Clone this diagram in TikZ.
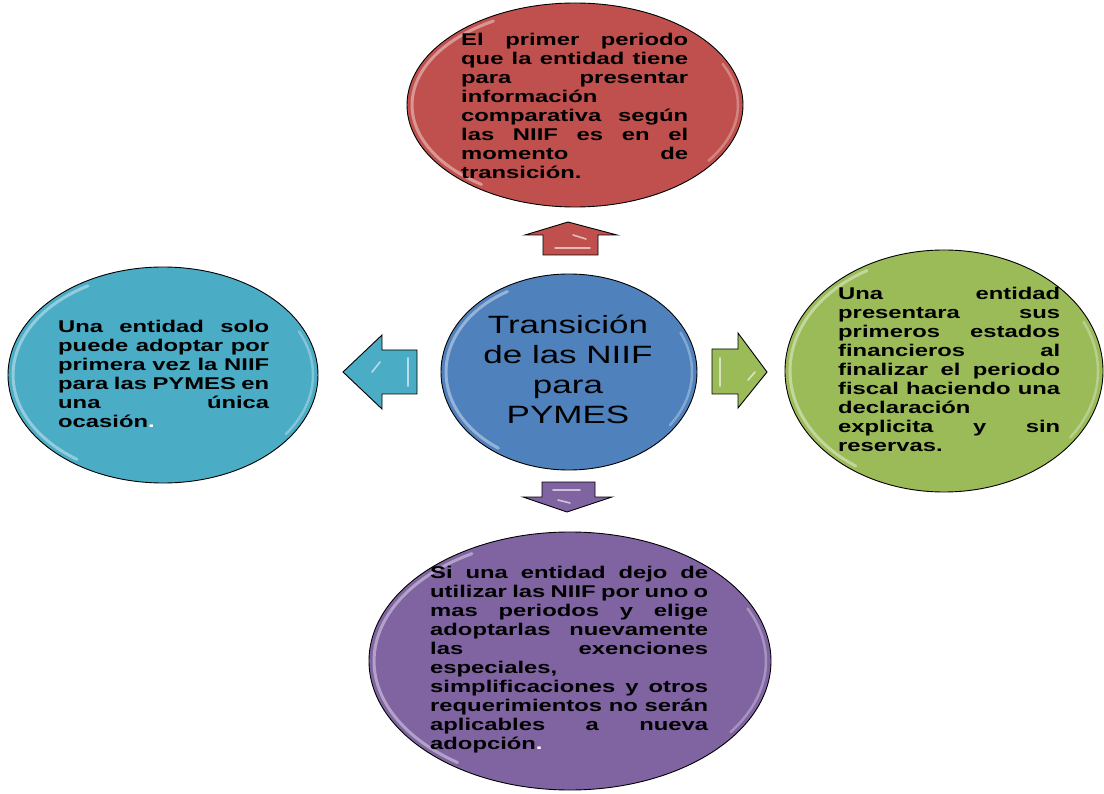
\documentclass[tikz,border=0pt]{standalone}
\usepackage{fontspec}
\setmainfont{Liberation Sans}[FakeStretch=1.4]
\usetikzlibrary{shapes.geometric}
\definecolor{cred}{HTML}{C0504D}
\definecolor{cblue}{HTML}{4F81BD}
\definecolor{ccyan}{HTML}{4BACC6}
\definecolor{cgreen}{HTML}{9BBB59}
\definecolor{cpurple}{HTML}{8064A2}
\newcommand\JL[2]{\makebox[#1][s]{\spaceskip=0pt\xspaceskip=0pt #2}}
\tikzset{
  bubble/.style={ellipse, draw=black, line width=0.9pt, inner sep=0pt},
  gloss/.style={white, opacity=0.4, line width=3pt, line cap=round},
  blockarrow/.style={draw=black, line width=0.9pt, line join=miter},
  bodytext/.style={inner sep=0pt, anchor=north west, align=left,
    font=\fontsize{17}{19}\selectfont\bfseries},
  hl/.style={white, opacity=0.6, line width=1.6pt, line cap=round}
}
\begin{document}
\begin{tikzpicture}[x=1pt,y=-1pt]
\useasboundingbox[fill=white] (0,0) rectangle (1104,794);

% ellipses
\node[bubble, fill=cred, minimum width=336pt, minimum height=204pt] (top) at (575,105) {};
\node[bubble, fill=cblue, minimum width=256pt, minimum height=196pt] (mid) at (569,372) {};
\node[bubble, fill=ccyan, minimum width=310pt, minimum height=216pt] (left) at (163,375) {};
\node[bubble, fill=cgreen, minimum width=318pt, minimum height=242pt] (right) at (944,371) {};
\node[bubble, fill=cpurple, minimum width=402pt, minimum height=258pt] (bot) at (570,661) {};

% glossy edges
\foreach \cx/\cy/\rx/\ry in {575/105/168/102, 569/372/128/98, 163/375/155/108, 944/371/159/121, 570/661/201/129}{
  \draw[gloss] plot[domain=120:235, samples=40] ({\cx+(\rx-5)*cos(\x)},{\cy-(\ry-5)*sin(\x)});
  \draw[gloss, opacity=0.3, line width=2.5pt] plot[domain=-35:25, samples=30] ({\cx+(\rx-5)*cos(\x)},{\cy-(\ry-5)*sin(\x)});
}

% block arrows
\draw[blockarrow, fill=cred] (568,222) -- (617,235) -- (598,235) -- (598,255) -- (543,255) -- (543,235) -- (525,235) -- cycle;
\draw[hl] (573,235) -- (586,239);
\draw[hl] (555,248) -- (590,248);

\draw[blockarrow, fill=ccyan] (343,372) -- (382,335) -- (382,350) -- (417,350) -- (417,394) -- (382,394) -- (382,409) -- cycle;
\draw[hl] (408,358) -- (408,386);
\draw[hl] (372,372) -- (380,362);

\draw[blockarrow, fill=cgreen] (712,349) -- (738,349) -- (738,333) -- (767,372) -- (738,408) -- (738,394) -- (712,394) -- cycle;
\draw[hl] (720,358) -- (720,386);
\draw[hl] (748,380) -- (755,372);

\draw[blockarrow, fill=cpurple] (542,482) -- (595,482) -- (595,497) -- (612,497) -- (567,512) -- (523,497) -- (542,497) -- cycle;
\draw[hl] (553,490) -- (580,490);
\draw[hl] (558,500) -- (570,503);

% texts
\node[bodytext, text width=227pt] (ttop) at (461,33) {%
\JL{227pt}{El primer periodo}\\
\JL{227pt}{que la entidad tiene}\\
\JL{227pt}{para presentar}\\
información\\
\JL{227pt}{comparativa según}\\
\JL{227pt}{las NIIF es en el}\\
\JL{227pt}{momento de}\\
transición.};

\node[inner sep=0pt, align=center, anchor=north,
  font=\fontsize{25}{30}\selectfont] (tmid) at (568,315) {%
Transición\\de las NIIF\\para\\PYMES};

\node[bodytext, text width=211pt] (tleft) at (58,320) {%
\JL{211pt}{Una entidad solo}\\
\JL{211pt}{puede adoptar por}\\
\JL{211pt}{primera vez la NIIF}\\
\JL{211pt}{para las PYMES en}\\
\JL{211pt}{una única}\\
ocasión\textcolor{white}{.}};

\node[bodytext, text width=222pt] (tright) at (838,287) {%
\JL{222pt}{Una entidad}\\
\JL{222pt}{presentara sus}\\
\JL{222pt}{primeros estados}\\
\JL{222pt}{financieros al}\\
\JL{222pt}{finalizar el periodo}\\
\JL{222pt}{fiscal haciendo una}\\
declaración\\
\JL{222pt}{explicita y sin}\\
reservas.};

\node[bodytext, text width=278pt] (tbot) at (430,566) {%
\JL{278pt}{Si una entidad dejo de}\\
\JL{278pt}{utilizar las NIIF  por uno o}\\
\JL{278pt}{mas periodos y elige}\\
\JL{278pt}{adoptarlas nuevamente}\\
\JL{278pt}{las exenciones}\\
especiales,\\
\JL{278pt}{simplificaciones y otros}\\
\JL{278pt}{requerimientos no serán}\\
\JL{278pt}{aplicables a nueva}\\
adopción\textcolor{white}{.}};
\end{tikzpicture}
\end{document}
